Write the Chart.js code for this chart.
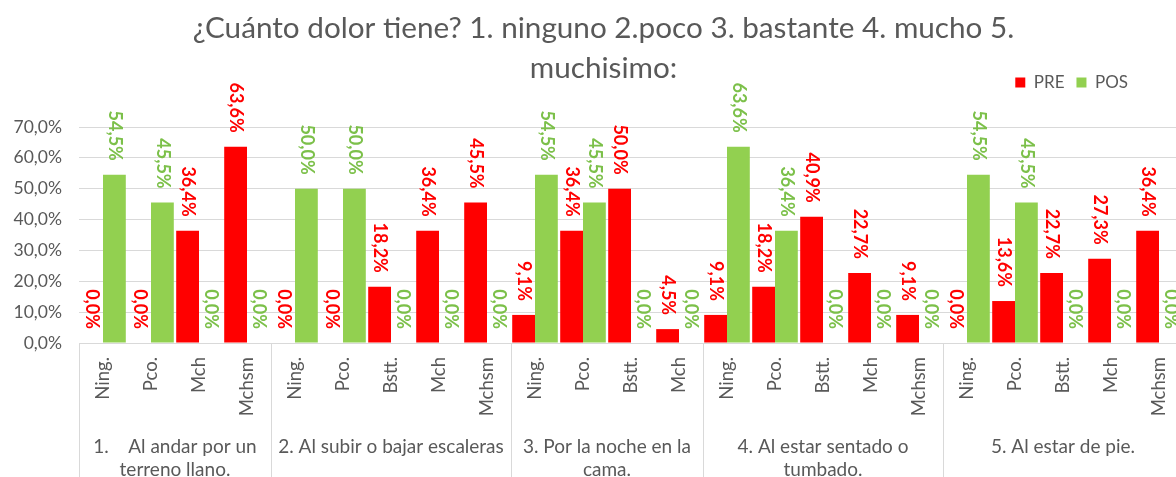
<!DOCTYPE html>
<html>
<head>
  <meta charset="UTF-8">
  <title>Dolor PRE / POS</title>
  <script src="https://cdn.jsdelivr.net/npm/chart.js"></script>
  <style>
    html, body { margin: 0; padding: 0; overflow: hidden; background: #fff; }
  </style>
</head>
<body>
    <canvas id="dolorChart" width="1210" height="477"></canvas>
    <script>
        // datos
        var titleLines = ['¿Cuánto dolor tiene? 1. ninguno 2.poco 3. bastante 4. mucho 5.', 'muchisimo:'];
        var categories = [
            'Ning.', 'Pco.', 'Mch', 'Mchsm',
            'Ning.', 'Pco.', 'Bstt.', 'Mch', 'Mchsm',
            'Ning.', 'Pco.', 'Bstt.', 'Mch',
            'Ning.', 'Pco.', 'Bstt.', 'Mch', 'Mchsm',
            'Ning.', 'Pco.', 'Bstt.', 'Mch', 'Mchsm'
        ];
        var groupNames = [
            ['1.    Al andar por un', 'terreno llano.'],
            ['2. Al subir o bajar escaleras'],
            ['3. Por la noche en la', 'cama.'],
            ['4. Al estar sentado o', 'tumbado.'],
            ['5. Al estar de pie.']
        ];
        var groupSizes = [4, 5, 4, 5, 5];
        var pre = [0, 0, 36.4, 63.6,  0, 0, 18.2, 36.4, 45.5,  9.1, 36.4, 50.0, 4.5,  9.1, 18.2, 40.9, 22.7, 9.1,  0, 13.6, 22.7, 27.3, 36.4];
        var pos = [54.5, 45.5, 0, 0,  50.0, 50.0, 0, 0, 0,  54.5, 45.5, 0, 0,  63.6, 36.4, 0, 0, 0,  54.5, 45.5, 0, 0, 0];

        var grey = '#595959';
        Chart.defaults.font.family = 'Lato';

        function pct(v) {
            return v.toFixed(1).replace('.', ',') + '%';
        }

        // etiquetas de valor giradas encima de cada barra
        var barLabels = {
            id: 'barLabels',
            afterDatasetsDraw: function(chart) {
                var ctx = chart.ctx;
                chart.data.datasets.forEach(function(ds, di) {
                    chart.getDatasetMeta(di).data.forEach(function(bar, i) {
                        ctx.save();
                        ctx.translate(bar.x, bar.y - 14);
                        ctx.rotate(Math.PI / 2);
                        ctx.font = 'bold 18px Lato';
                        ctx.fillStyle = ds.labelColor;
                        ctx.textAlign = 'right';
                        ctx.textBaseline = 'middle';
                        ctx.fillText(pct(ds.data[i]), 0, 0);
                        ctx.restore();
                    });
                });
            }
        };

        // segundo nivel del eje x: separadores y nombres de grupo
        var groupAxis = {
            id: 'groupAxis',
            afterDraw: function(chart) {
                var ctx = chart.ctx;
                var x = chart.scales.x;
                var w = x.width / categories.length;
                var top = chart.chartArea.bottom;
                var start = 0;
                ctx.save();
                ctx.strokeStyle = '#D9D9D9';
                ctx.lineWidth = 1;
                ctx.beginPath();
                ctx.moveTo(Math.round(x.left) + 0.5, top);
                ctx.lineTo(Math.round(x.left) + 0.5, chart.height);
                ctx.stroke();
                groupSizes.forEach(function(n, g) {
                    var x0 = x.getPixelForValue(start) - w / 2;
                    var x1 = x.getPixelForValue(start + n - 1) + w / 2;
                    ctx.beginPath();
                    ctx.moveTo(Math.round(x1) + 0.5, top);
                    ctx.lineTo(Math.round(x1) + 0.5, chart.height);
                    ctx.stroke();
                    ctx.fillStyle = grey;
                    ctx.font = '19px Lato';
                    ctx.textAlign = 'center';
                    ctx.textBaseline = 'middle';
                    groupNames[g].forEach(function(line, k) {
                        ctx.fillText(line, (x0 + x1) / 2, 447 + k * 23);
                    });
                    start += n;
                });
                ctx.restore();
            }
        };

        // mover leyenda (arriba a la derecha) y centrar el titulo como el original
        var boxShift = {
            id: 'boxShift',
            afterLayout: function(chart) {
                var lg = chart.legend;
                lg.left -= 43; lg.right -= 43;
                lg.top -= 26; lg.bottom -= 26;
                var t = chart.titleBlock;
                t.left += 12; t.right += 12;
            }
        };

        var ctx = document.getElementById('dolorChart').getContext('2d');
        new Chart(ctx, {
            type: 'bar',
            data: {
                labels: categories,
                datasets: [{
                    label: 'PRE',
                    data: pre,
                    backgroundColor: '#FF0000',
                    labelColor: '#FF0000',
                    categoryPercentage: 0.95,
                    barPercentage: 1.0
                }, {
                    label: 'POS',
                    data: pos,
                    backgroundColor: '#92D050',
                    labelColor: '#7CC04A',
                    categoryPercentage: 0.95,
                    barPercentage: 1.0
                }]
            },
            options: {
                responsive: false,
                animation: false,
                layout: { padding: { left: 0, right: 27, top: 0, bottom: 0 } },
                scales: {
                    x: {
                        grid: { display: false, drawTicks: false },
                        border: { display: false },
                        ticks: {
                            autoSkip: false,
                            minRotation: 90,
                            maxRotation: 90,
                            padding: 14,
                            color: grey,
                            font: { size: 18.5 }
                        },
                        afterFit: function(s) { s.height = 134; }
                    },
                    y: {
                        min: 0,
                        max: 70,
                        ticks: {
                            stepSize: 10,
                            padding: 17,
                            color: grey,
                            font: { size: 17.5 },
                            callback: function(v) { return pct(v); }
                        },
                        grid: { color: '#D9D9D9', drawTicks: false },
                        border: { display: false },
                        afterFit: function(s) { s.width = 79; }
                    }
                },
                plugins: {
                    title: {
                        display: true,
                        text: titleLines,
                        color: grey,
                        font: { size: 29.7, weight: 'normal', lineHeight: 40 / 29.7 },
                        padding: { top: 8, bottom: 0 }
                    },
                    legend: {
                        position: 'top',
                        align: 'end',
                        labels: {
                            boxWidth: 10,
                            boxHeight: 10,
                            padding: 12,
                            color: grey,
                            font: { size: 17, lineHeight: 1.0 }
                        }
                    },
                    tooltip: { enabled: false }
                }
            },
            plugins: [barLabels, groupAxis, boxShift]
        });
    </script>
</body>
</html>
